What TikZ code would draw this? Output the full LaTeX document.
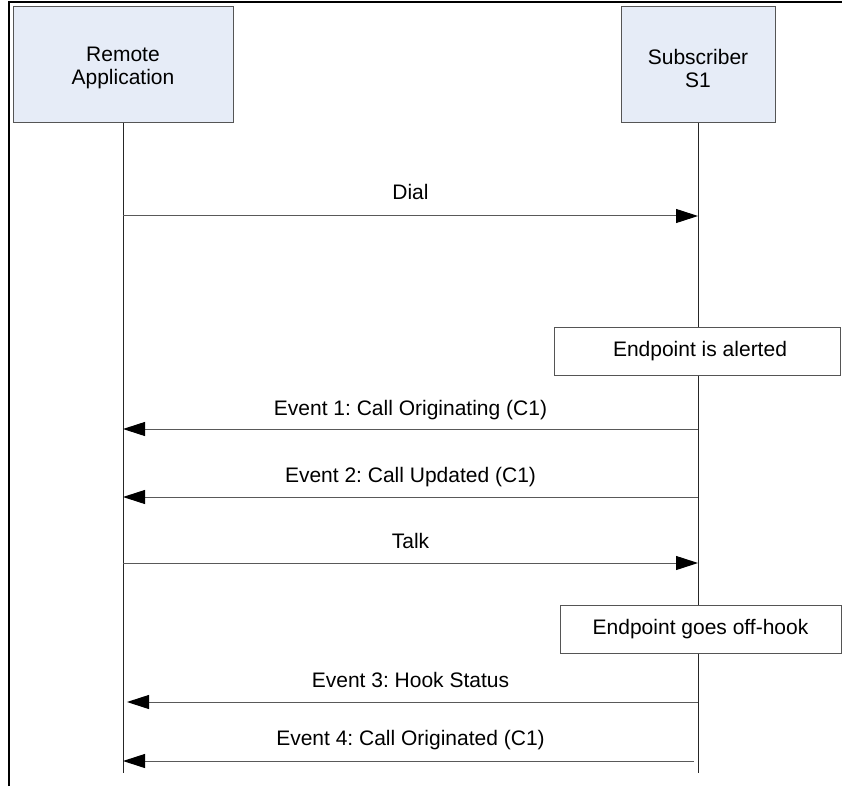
\documentclass[tikz,border=0pt]{standalone}
\usepackage{fontspec}
\setmainfont{Liberation Sans}
\usetikzlibrary{arrows.meta}
\definecolor{hdrfill}{RGB}{230,236,247}
\definecolor{edgegray}{RGB}{85,85,85}
\newcommand{\lowered}[1]{\raisebox{-3pt}[\height][\depth]{#1}}
\frenchspacing
\begin{document}
\begin{tikzpicture}[x=1pt,y=-1pt,
  every node/.style={font=\fontsize{21}{23}\selectfont, inner sep=0pt},
  actor/.style={draw=edgegray, fill=hdrfill, line width=1pt, align=center},
  notebox/.style={draw=edgegray, fill=white, line width=1pt},
  life/.style={draw=black!85, line width=1pt},
  msg/.style={draw=black!65, line width=1pt,
    -{Triangle[length=22pt,width=14pt,color=black]}},
  msglabel/.style={anchor=base}
]
\useasboundingbox (0,0) rectangle (842,786);

% outer frame (left and top edges)
\draw[line width=1.5pt] (9,786) -- (9,2) -- (842,2);

% participants
\node[actor, minimum width=220pt, minimum height=116pt] (ra) at (123,65)
  {\lowered{Remote}\\\lowered{Application}};
\node[actor, minimum width=154pt, minimum height=116pt] (s1) at (698,65)
  {\lowered{Subscriber}\\\lowered{S1}};

% lifelines
\coordinate (raend) at (ra.south |- 0,773);
\coordinate (s1end) at (s1.south |- 0,773);
\draw[life] (ra.south) -- (raend);
\draw[life] (s1.south) -- (s1end);

% message end points on the lifelines
\foreach \n/\y in {dial/216, ev1/429, ev2/497, talk/563, ev3/702, ev4/761}{
  \coordinate (\n-a) at (ra.south |- 0,\y);
  \coordinate (\n-s) at (s1.south |- 0,\y);
}

% notes on the subscriber lifeline
\node[notebox, minimum width=286pt, minimum height=48pt] (alert) at (697,351) {\hspace{6pt}Endpoint is alerted};
\node[notebox, minimum width=281pt, minimum height=48pt] (offhook) at (700.5,629) {Endpoint goes off-hook};

% messages
\draw[msg] (dial-a) -- (dial-s)
  node[msglabel, midway, yshift=16pt] (dialtxt) {Dial};
\draw[msg] (ev1-s) -- (ev1-a)
  node[msglabel, midway, yshift=14pt] (ev1txt) {Event 1: Call Originating (C1)};
\draw[msg] (ev2-s) -- (ev2-a)
  node[msglabel, midway, yshift=15pt] (ev2txt) {Event 2: Call Updated (C1)};
\draw[msg] (talk-a) -- (talk-s)
  node[msglabel, midway, yshift=15pt] (talktxt) {Talk};
\draw[msg, shorten >=4pt] (ev3-s) -- (ev3-a)
  node[msglabel, midway, yshift=15pt] (ev3txt) {Event 3: Hook Status};
\draw[msg, shorten <=4pt] (ev4-s) -- (ev4-a)
  node[msglabel, midway, yshift=16pt] (ev4txt) {Event 4: Call Originated (C1)};
\end{tikzpicture}
\end{document}
